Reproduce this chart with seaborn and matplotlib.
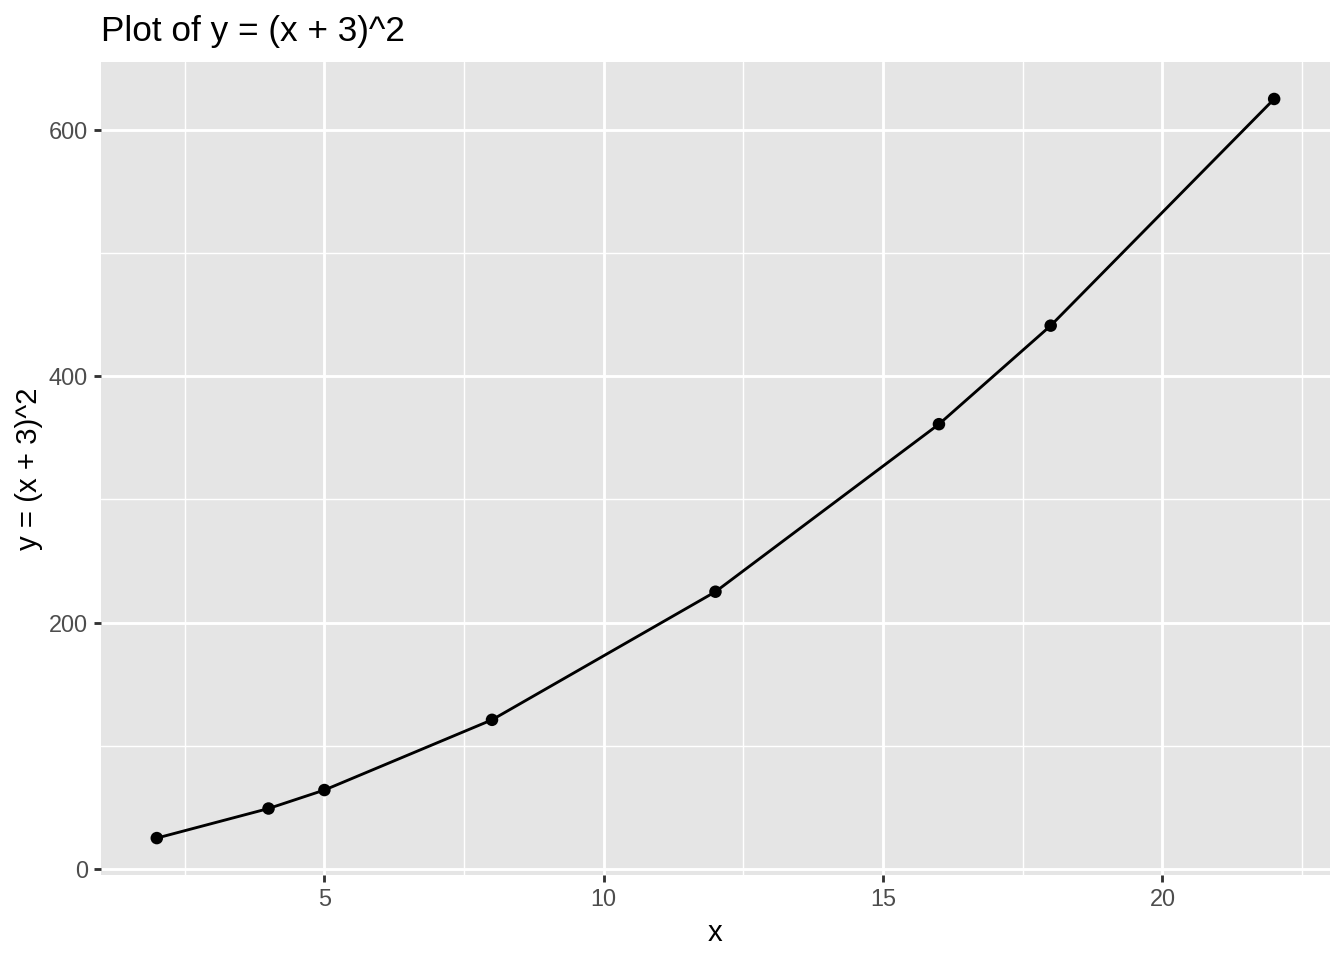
import matplotlib
matplotlib.use("Agg")
import matplotlib.pyplot as plt
import seaborn as sns
import pandas as pd
from matplotlib.ticker import MultipleLocator

# data: y = (x + 3)^2 at the sampled points
x_vals = [2, 4, 5, 8, 12, 16, 18, 22]
y_vals = [25, 49, 64, 121, 225, 361, 441, 625]

x_ticks = [5, 10, 15, 20]
y_ticks = [0, 200, 400, 600]

df = pd.DataFrame({"x": x_vals, "y": y_vals})

sns.set_theme(style="darkgrid")
plt.rcParams["font.family"] = ["Liberation Sans", "DejaVu Sans"]

fig = plt.figure(figsize=(7, 5), dpi=192)
ax = fig.add_axes([0.0751, 0.0885, 0.9145, 0.8469])
ax.set_facecolor("#E5E5E5")

sns.lineplot(data=df, x="x", y="y", color="black", linewidth=1.07, ax=ax, zorder=3)
sns.scatterplot(data=df, x="x", y="y", color="black", s=22, edgecolor="none", ax=ax, zorder=4)

ax.set_xlim(1, 23)
ax.set_ylim(-5, 655)
ax.set_xticks(x_ticks)
ax.set_yticks(y_ticks)
ax.xaxis.set_minor_locator(MultipleLocator(2.5))
ax.yaxis.set_minor_locator(MultipleLocator(100))

ax.grid(which="major", color="white", linewidth=1.07)
ax.grid(which="minor", color="white", linewidth=0.53)
ax.set_axisbelow(True)
for s in ax.spines.values():
    s.set_visible(False)

ax.tick_params(axis="both", which="major", length=2.75, width=1.07, color="#333333",
               labelsize=8.8, labelcolor="#4D4D4D", pad=2.2, direction="out")
ax.tick_params(axis="both", which="minor", length=0)
ax.tick_params(bottom=True, left=True)

ax.set_xlabel("x", fontsize=11, color="black", labelpad=3)
ax.set_ylabel("y = (x + 3)^2", fontsize=11, color="black", labelpad=2)
ax.set_title("Plot of y = (x + 3)^2", fontsize=13.2, color="black", loc="left", pad=8)

fig.savefig("out.png", dpi=192, facecolor="white")
